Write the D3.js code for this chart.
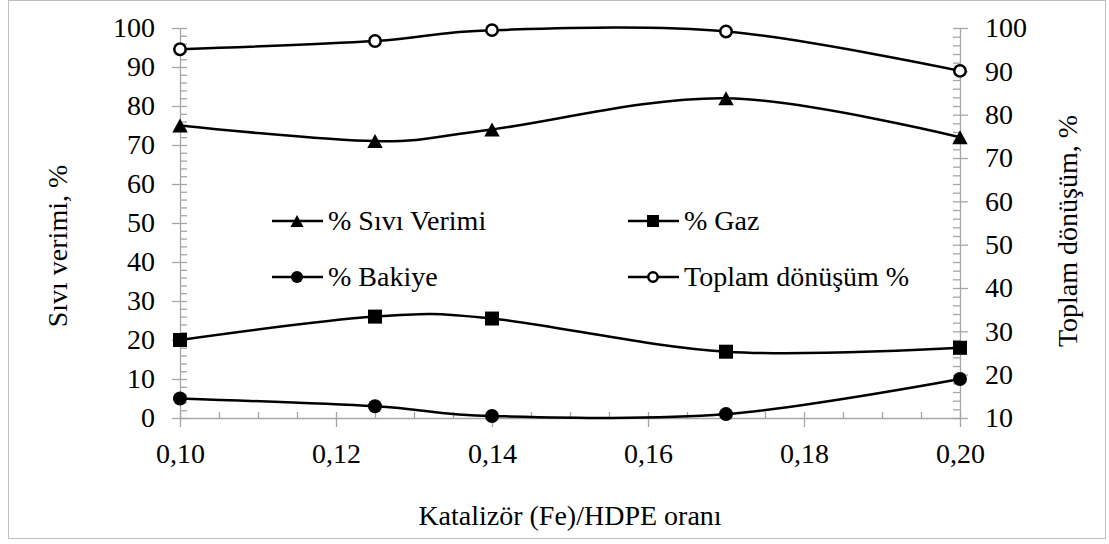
<!DOCTYPE html>
<html>
<head>
<meta charset="utf-8">
<script src="https://cdn.jsdelivr.net/npm/d3@7"></script>
<style>
  body { margin: 0; background: #fff; }
  svg text { font-family: "Liberation Serif", "Times New Roman", serif !important; fill: #000; }
  .axis path, .axis line { stroke: #a6a6a6; stroke-width: 1.3; }
  .axis text { font-size: 28px; }
</style>
</head>
<body>
<script>
// data
var ratios = [0.10, 0.125, 0.14, 0.17, 0.20];
var sivi = [75, 71, 74, 82, 72];
var gaz = [20, 26, 25.5, 17, 18];
var bakiye = [5, 3, 0.5, 1, 10];
var toplam = [95.1, 97, 99.5, 99.2, 90.1];
var xTicks = [0.10, 0.12, 0.14, 0.16, 0.18, 0.20];
var leftTicks = [0, 10, 20, 30, 40, 50, 60, 70, 80, 90, 100];
var rightTicks = [10, 20, 30, 40, 50, 60, 70, 80, 90, 100];
var seriesNames = ["% Sıvı Verimi", "% Gaz", "% Bakiye", "Toplam dönüşüm %"];

var serif = "'Liberation Serif', 'Times New Roman', serif";
var width = 1109, height = 544;
var svg = d3.select("body").append("svg")
  .attr("width", width)
  .attr("height", height)
  .attr("font-family", serif);

svg.append("rect")
  .attr("x", 8.5).attr("y", 0.5)
  .attr("width", 1097).attr("height", 538)
  .attr("fill", "#fff")
  .attr("stroke", "#bfbfbf");

var x = d3.scaleLinear().domain([0.10, 0.20]).range([180, 960]);
var yL = d3.scaleLinear().domain([0, 100]).range([418, 28]);
var yR = d3.scaleLinear().domain([10, 100]).range([418, 28]);

var fmt = function(d){ return d3.format(".2f")(d).replace(".", ","); };

// minor ticks first (inside the plot)
svg.append("g").attr("class", "axis")
  .attr("transform", "translate(0,418)")
  .call(d3.axisTop(x).tickValues(d3.range(0, 21).map(function(i){ return 0.10 + i*0.005; })).tickSize(6).tickFormat(""))
  .select(".domain").remove();
svg.append("g").attr("class", "axis")
  .attr("transform", "translate(180,0)")
  .call(d3.axisRight(yL).tickValues(d3.range(0, 51).map(function(i){ return i*2; })).tickSize(7).tickFormat(""))
  .select(".domain").remove();
svg.append("g").attr("class", "axis")
  .attr("transform", "translate(960,0)")
  .call(d3.axisLeft(yR).tickValues(d3.range(0, 46).map(function(i){ return 10 + i*2; })).tickSize(7).tickFormat(""))
  .select(".domain").remove();

// major axes
var xAxis = svg.append("g").attr("class", "axis")
  .attr("transform", "translate(0,418)")
  .call(d3.axisBottom(x).tickValues(xTicks).tickSize(9).tickSizeOuter(0).tickPadding(16).tickFormat(fmt));

var leftAxis = svg.append("g").attr("class", "axis")
  .attr("transform", "translate(180,0)")
  .call(d3.axisLeft(yL).tickValues(leftTicks).tickSize(8).tickSizeOuter(0).tickPadding(17));

var rightAxis = svg.append("g").attr("class", "axis")
  .attr("transform", "translate(960,0)")
  .call(d3.axisRight(yR).tickValues(rightTicks).tickSize(8).tickSizeOuter(0).tickPadding(17));

[xAxis, leftAxis, rightAxis].forEach(function(a){
  a.attr("font-family", serif).attr("font-size", 28);
  a.selectAll("text").style("font-family", serif).style("font-size", "28px");
});

// titles
svg.append("text")
  .attr("x", 570).attr("y", 525)
  .attr("text-anchor", "middle")
  .style("font-family", serif)
  .style("font-size", "28px")
  .text("Katalizör (Fe)/HDPE oranı");

svg.append("text")
  .attr("transform", "translate(67,246) rotate(-90)")
  .attr("text-anchor", "middle")
  .style("font-family", serif)
  .style("font-size", "28px")
  .text("Sıvı verimi, %");

svg.append("text")
  .attr("transform", "translate(1077,231) rotate(-90)")
  .attr("text-anchor", "middle")
  .style("font-family", serif)
  .style("font-size", "28px")
  .text("Toplam dönüşüm, %");

// lines
var curve = d3.curveCardinal.tension(0);
var series = [
  {name: seriesNames[0], values: sivi, y: yL, marker: "triangle"},
  {name: seriesNames[1], values: gaz, y: yL, marker: "square"},
  {name: seriesNames[2], values: bakiye, y: yL, marker: "circle"},
  {name: seriesNames[3], values: toplam, y: yR, marker: "open"}
];

function drawMarker(g, type, cx, cy, s){
  if (type == "triangle"){
    g.append("path")
     .attr("d", "M" + cx + "," + (cy - s*0.5) + "L" + (cx + s*0.55) + "," + (cy + s*0.5) + "L" + (cx - s*0.55) + "," + (cy + s*0.5) + "Z")
     .attr("fill", "#000");
  } else if (type == "square"){
    g.append("rect")
     .attr("x", cx - s/2).attr("y", cy - s/2)
     .attr("width", s).attr("height", s)
     .attr("fill", "#000");
  } else if (type == "circle"){
    g.append("circle")
     .attr("cx", cx).attr("cy", cy).attr("r", s/2)
     .attr("fill", "#000");
  } else {
    g.append("circle")
     .attr("cx", cx).attr("cy", cy).attr("r", s/2 - 1.3)
     .attr("fill", "#fff")
     .attr("stroke", "#000")
     .attr("stroke-width", 2.5);
  }
}

series.forEach(function(s){
  var line = d3.line()
    .x(function(d, i){ return x(ratios[i]); })
    .y(function(d){ return s.y(d); })
    .curve(curve);
  svg.append("path")
    .attr("d", line(s.values))
    .attr("fill", "none")
    .attr("stroke", "#000")
    .attr("stroke-width", 2.5);
  var g = svg.append("g");
  s.values.forEach(function(d, i){
    drawMarker(g, s.marker, x(ratios[i]), s.y(d), 14);
  });
});

// legend
var legendX = [272, 628];
var legendY = [221, 277];
series.forEach(function(s, i){
  var lx = legendX[i % 2];
  var ly = legendY[Math.floor(i / 2)];
  svg.append("line")
    .attr("x1", lx).attr("x2", lx + 51)
    .attr("y1", ly).attr("y2", ly)
    .attr("stroke", "#000")
    .attr("stroke-width", 2.5);
  drawMarker(svg, s.marker, lx + 25, ly, 12);
  svg.append("text")
    .attr("x", lx + 56).attr("y", ly + 9)
    .style("font-family", serif)
    .style("font-size", "28px")
    .text(s.name);
});
</script>
</body>
</html>
